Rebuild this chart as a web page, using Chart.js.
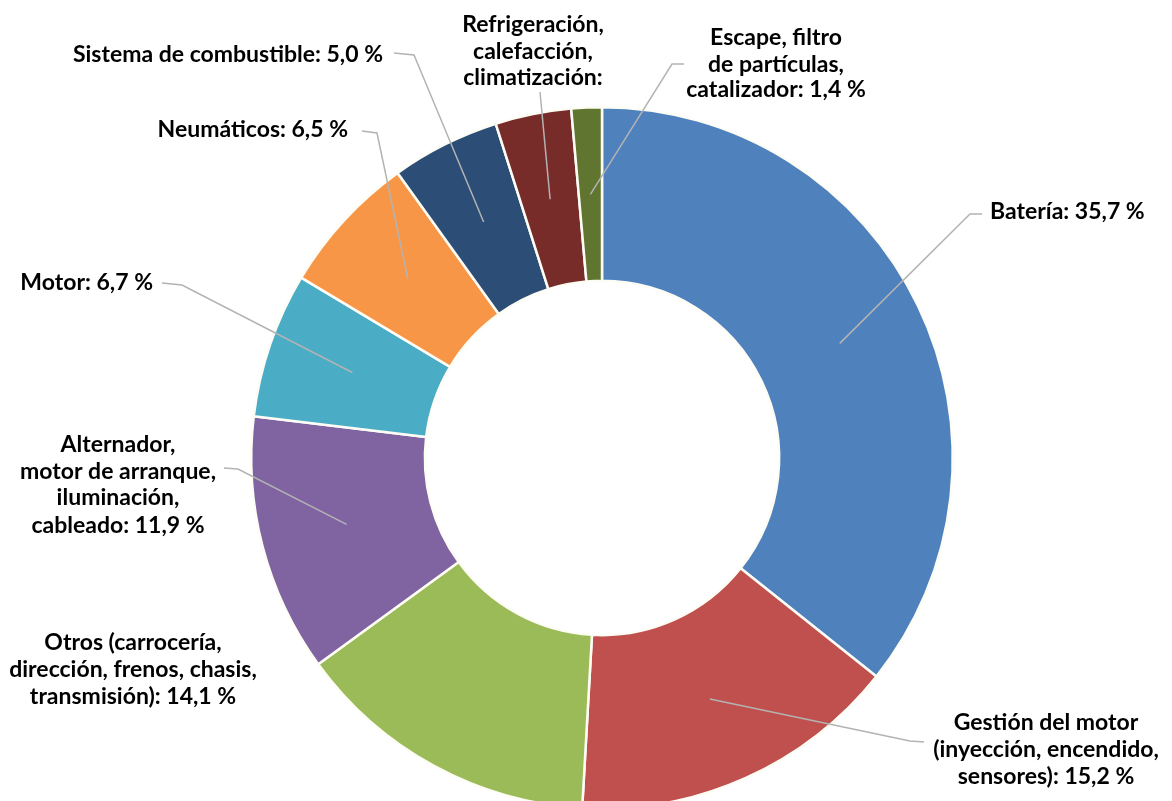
<!DOCTYPE html>
<html lang="es">
<head>
<meta charset="utf-8">
<title>Averías por componente</title>
<script src="https://cdn.jsdelivr.net/npm/chart.js@4.4.1/dist/chart.umd.min.js"></script>
<style>
  html, body { margin: 0; padding: 0; background: #fff; overflow: hidden; }
  /* the ring runs past the bottom edge of the window, as in the source */
  #wrap { position: relative; width: 1172px; height: 916px; }
</style>
</head>
<body>
<div id="wrap"><canvas id="chart"></canvas></div>
<script>
// Label lines for each slice; the value goes after the last line
const categories = [
  ['Batería:'],
  ['Gestión del motor', '(inyección, encendido,', 'sensores):'],
  ['Otros (carrocería,', 'dirección, frenos, chasis,', 'transmisión):'],
  ['Alternador,', 'motor de arranque,', 'iluminación,', 'cableado:'],
  ['Motor:'],
  ['Neumáticos:'],
  ['Sistema de combustible:'],
  ['Refrigeración,', 'calefacción,', 'climatización:'],
  ['Escape, filtro', 'de partículas,', 'catalizador:']
];
// Share of breakdowns (%)
const shares = [35.7, 15.2, 14.1, 11.9, 6.7, 6.5, 5.0, 3.5, 1.4];
// the source prints no value on the cooling label
const showValue = [true, true, true, true, true, true, true, false, true];

const colors = ['#4f81bd', '#c0504d', '#9bbb59', '#8064a2', '#4bacc6',
                '#f79646', '#2c4d75', '#772c2a', '#5f7530'];

// where each label sits and the bend points of its leader line
const labelLayout = [
  { x: 990, ys: [212], align: 'left', leader: [[982, 214], [970, 214]] },
  { x: 1046, ys: [723, 750, 777], align: 'center', leader: [[924, 742], [910, 741]] },
  { x: 133, ys: [643, 670, 697], align: 'center', leader: null },
  { x: 118, ys: [445, 472, 498, 526], align: 'center', leader: [[224, 468], [238, 469]] },
  { x: 153, ys: [283], align: 'right', leader: [[162, 283], [182, 285]] },
  { x: 348, ys: [130], align: 'right', leader: [[362, 131], [377, 133]] },
  { x: 383, ys: [55], align: 'right', leader: [[394, 53], [414, 55]] },
  { x: 533, ys: [25, 52, 78], align: 'center', leader: [[540, 92]] },
  { x: 776, ys: [38, 65, 90], align: 'center', leader: [[684, 64], [672, 64]] }
];

const fmt = v => v.toFixed(1).replace('.', ',') + ' %';

const leaderLabels = {
  id: 'leaderLabels',
  afterDatasetsDraw(chart) {
    const ctx = chart.ctx;
    const arcs = chart.getDatasetMeta(0).data;
    ctx.save();
    ctx.strokeStyle = '#b3b3b3';
    ctx.lineWidth = 1.5;
    arcs.forEach((arc, i) => {
      const lay = labelLayout[i];
      if (!lay.leader) return;
      const p = arc.tooltipPosition();
      ctx.beginPath();
      ctx.moveTo(lay.leader[0][0], lay.leader[0][1]);
      lay.leader.slice(1).forEach(pt => ctx.lineTo(pt[0], pt[1]));
      ctx.lineTo(p.x, p.y);
      ctx.stroke();
    });

    ctx.fillStyle = '#000';
    ctx.font = 'bold 23px Lato';
    ctx.textBaseline = 'middle';
    categories.forEach((lines, i) => {
      const lay = labelLayout[i];
      ctx.textAlign = lay.align;
      lines.forEach((txt, j) => {
        let s = txt;
        if (j === lines.length - 1 && showValue[i]) s += ' ' + fmt(shares[i]);
        ctx.fillText(s, lay.x, lay.ys[j]);
      });
    });
    ctx.restore();
  }
};

new Chart(document.getElementById('chart'), {
  type: 'doughnut',
  data: {
    labels: categories.map(l => l.join(' ')),
    datasets: [{
      data: shares,
      backgroundColor: colors,
      borderColor: '#fdfdf6',
      borderWidth: 2.5
    }]
  },
  options: {
    responsive: true,
    maintainAspectRatio: false,
    animation: false,
    cutout: '50.5%',
    layout: { padding: { left: 250, right: 218, top: 106, bottom: 106 } },
    plugins: {
      legend: { display: false },
      tooltip: { enabled: false }
    }
  },
  plugins: [leaderLabels]
});
</script>
</body>
</html>
